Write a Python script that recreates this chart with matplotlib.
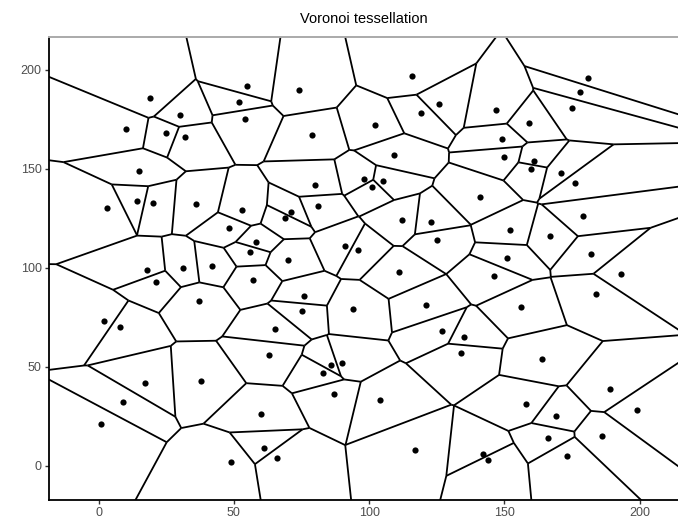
import numpy as np
import matplotlib.pyplot as plt
import matplotlib.tri as mtri
from matplotlib.collections import LineCollection

plt.rcParams['font.family'] = ['Liberation Sans', 'DejaVu Sans']

# Seed points
px = [55, 52, 54, 19, 30, 10, 25, 32, 15, 116, 74, 126, 119, 102, 79, 109, 80, 98, 105, 101,
      147, 181, 178, 175, 159, 149, 150, 161, 160, 171, 176, 3, 14, 20, 36, 53, 48, 58, 56, 18,
      21, 31, 42, 57, 37, 2, 8, 81, 71, 69, 112, 123, 125, 91, 96, 70, 111, 76, 75, 94,
      121, 65, 127, 135, 141, 179, 152, 167, 182, 151, 193, 146, 184, 156, 17, 9, 1, 38, 60, 61,
      49, 63, 86, 90, 83, 87, 104, 66, 117, 134, 164, 189, 199, 158, 169, 186, 166, 173, 142, 144]
py = [192, 184, 175, 186, 177, 170, 168, 166, 149, 197, 190, 183, 178, 172, 167, 157, 142, 145, 144, 141,
      180, 196, 189, 181, 173, 165, 156, 154, 150, 148, 143, 130, 134, 133, 132, 129, 120, 113, 108, 99,
      93, 100, 101, 94, 83, 73, 70, 131, 128, 125, 124, 123, 114, 111, 109, 104, 98, 86, 78, 79,
      81, 69, 68, 65, 136, 126, 119, 116, 107, 105, 97, 96, 87, 80, 42, 32, 21, 43, 26, 9,
      2, 56, 51, 52, 47, 36, 33, 4, 8, 57, 54, 39, 28, 31, 25, 15, 14, 5, 6, 3]

xticks = [0, 50, 100, 150, 200]
yticks = [0, 50, 100, 150, 200]

x = np.array(px, float)
y = np.array(py, float)

# Delaunay triangulation -> Voronoi edges (circumcentres of neighbouring triangles)
tri = mtri.Triangulation(x, y)
T = tri.triangles
N = tri.neighbors
ax_, ay_ = x[T[:, 0]], y[T[:, 0]]
bx_, by_ = x[T[:, 1]], y[T[:, 1]]
cx_, cy_ = x[T[:, 2]], y[T[:, 2]]
d = 2 * (ax_ * (by_ - cy_) + bx_ * (cy_ - ay_) + cx_ * (ay_ - by_))
ux = ((ax_**2 + ay_**2) * (by_ - cy_) + (bx_**2 + by_**2) * (cy_ - ay_) + (cx_**2 + cy_**2) * (ay_ - by_)) / d
uy = ((ax_**2 + ay_**2) * (cx_ - bx_) + (bx_**2 + by_**2) * (ax_ - cx_) + (cx_**2 + cy_**2) * (bx_ - ax_)) / d
cc = np.column_stack([ux, uy])

segs = []
for i in range(len(T)):
    for j in range(3):
        n = N[i, j]
        if n > i:
            segs.append([cc[i], cc[n]])
        elif n == -1:
            # hull edge: ray going outwards from the circumcentre
            p1 = np.array([x[T[i, j]], y[T[i, j]]])
            p2 = np.array([x[T[i, (j + 1) % 3]], y[T[i, (j + 1) % 3]]])
            q = np.array([x[T[i, (j + 2) % 3]], y[T[i, (j + 2) % 3]]])
            t = p2 - p1
            nrm = np.array([-t[1], t[0]]) / np.hypot(*t)
            if np.dot(nrm, (p1 + p2) / 2 - q) < 0:
                nrm = -nrm
            segs.append([cc[i], cc[i] + nrm * 2000])

fig = plt.figure(figsize=(6.78, 5.19), dpi=100)
ax = fig.add_axes([48.7 / 678, 18.7 / 519, (678 - 48.7) / 678, (500.3 - 37.3) / 519])

ax.add_collection(LineCollection(segs, colors='black', linewidths=1.3))
ax.scatter(x, y, s=20, color='black', zorder=3, linewidths=0)

ax.set_xlim(-18.5, 214.2)
ax.set_ylim(-17.5, 216.5)
ax.set_xticks(xticks)
ax.set_yticks(yticks)
ax.tick_params(labelsize=9, labelcolor='#4D4D4D', color='#333333', length=3, width=1)
ax.tick_params(axis='x', pad=1.5)
ax.tick_params(axis='y', pad=2)

ax.spines['right'].set_visible(False)
ax.spines['top'].set_color('#AAAAAA')
ax.spines['top'].set_linewidth(1.4)
ax.spines['left'].set_linewidth(1.3)
ax.spines['bottom'].set_linewidth(1.3)

ax.set_title("Voronoi tessellation", fontsize=10.5, pad=10)

fig.savefig("out.png", dpi=100)
